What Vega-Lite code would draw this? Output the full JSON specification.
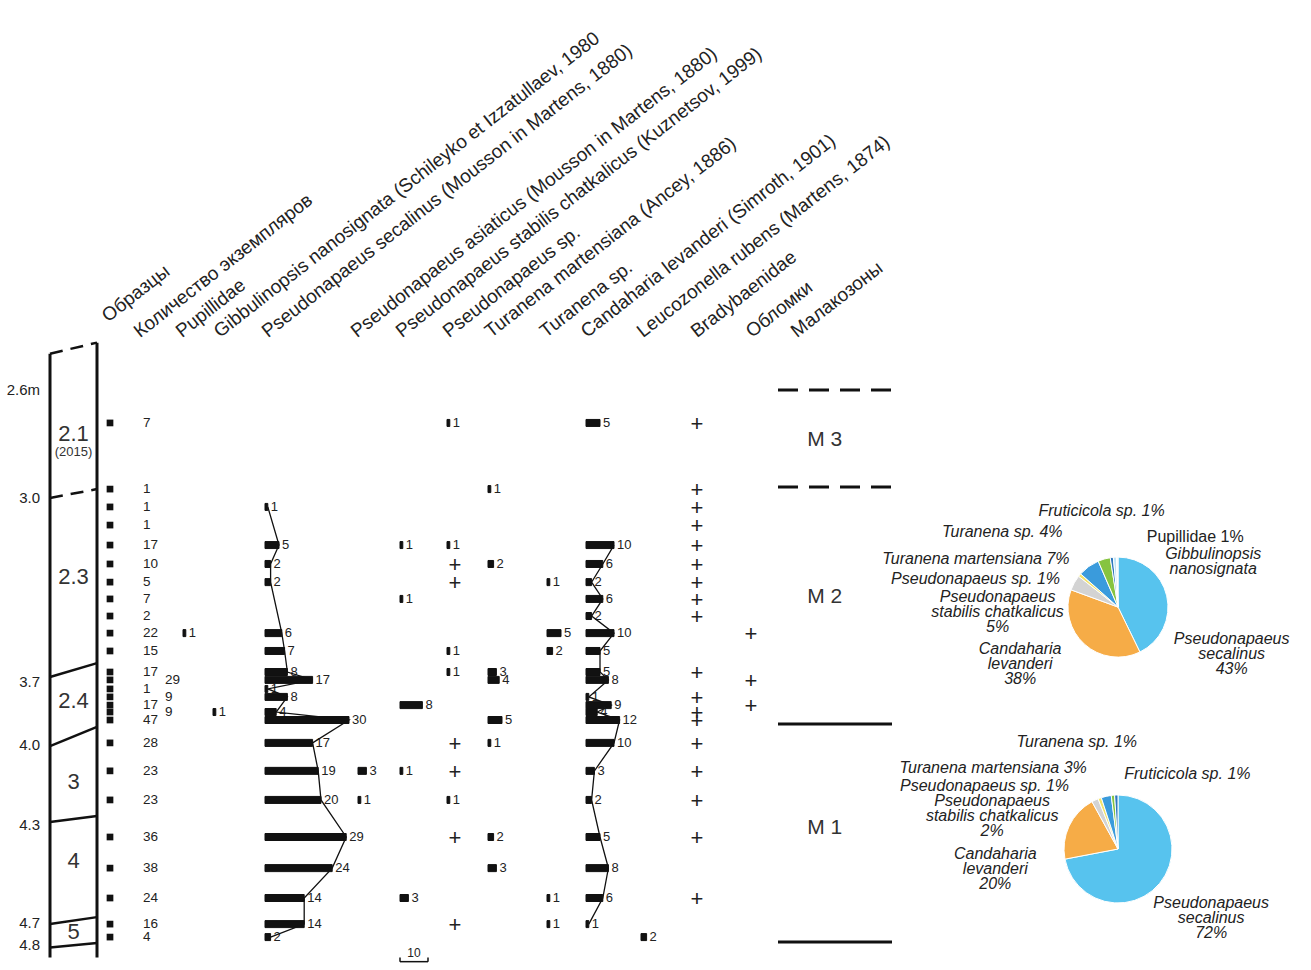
{
"$schema":"https://vega.github.io/schema/vega-lite/v6.json",
"width":1311,"height":970,"autosize":{"type":"none"},"padding":0,"background":"white",
"config":{"view":{"stroke":null},"font":"Liberation Sans","text":{"color":"#222"}},
"datasets":{
"samples":[
{"s":1,"depth":2.722,"total":7},{"s":2,"depth":2.967,"total":1},{"s":3,"depth":3.034,"total":1},{"s":4,"depth":3.103,"total":1},
{"s":5,"depth":3.179,"total":17},{"s":6,"depth":3.251,"total":10},{"s":7,"depth":3.32,"total":5},{"s":8,"depth":3.384,"total":7},
{"s":9,"depth":3.449,"total":2},{"s":10,"depth":3.514,"total":22},{"s":11,"depth":3.582,"total":15},{"s":12,"depth":3.662,"total":17},
{"s":13,"depth":3.692,"total":29},{"s":14,"depth":3.733,"total":1},{"s":15,"depth":3.771,"total":9},{"s":16,"depth":3.81,"total":17},
{"s":17,"depth":3.843,"total":9},{"s":18,"depth":3.881,"total":47},{"s":19,"depth":3.99,"total":28},{"s":20,"depth":4.097,"total":23},
{"s":21,"depth":4.206,"total":23},{"s":22,"depth":4.349,"total":36},{"s":23,"depth":4.476,"total":38},{"s":24,"depth":4.598,"total":24},
{"s":25,"depth":4.705,"total":16},{"s":26,"depth":4.764,"total":4}],
"counts":[
{"s":10,"depth":3.514,"t":"Pup","n":1},{"s":17,"depth":3.843,"t":"Gib","n":1},
{"s":3,"depth":3.034,"t":"Psec","n":1},{"s":5,"depth":3.179,"t":"Psec","n":5},{"s":6,"depth":3.251,"t":"Psec","n":2},{"s":7,"depth":3.32,"t":"Psec","n":2},{"s":10,"depth":3.514,"t":"Psec","n":6},{"s":11,"depth":3.582,"t":"Psec","n":7},{"s":12,"depth":3.662,"t":"Psec","n":8},{"s":13,"depth":3.692,"t":"Psec","n":17},{"s":14,"depth":3.733,"t":"Psec","n":1},{"s":15,"depth":3.771,"t":"Psec","n":8},{"s":17,"depth":3.843,"t":"Psec","n":4},{"s":18,"depth":3.881,"t":"Psec","n":30},{"s":19,"depth":3.99,"t":"Psec","n":17},{"s":20,"depth":4.097,"t":"Psec","n":19},{"s":21,"depth":4.206,"t":"Psec","n":20},{"s":22,"depth":4.349,"t":"Psec","n":29},{"s":23,"depth":4.476,"t":"Psec","n":24},{"s":24,"depth":4.598,"t":"Psec","n":14},{"s":25,"depth":4.705,"t":"Psec","n":14},{"s":26,"depth":4.764,"t":"Psec","n":2},
{"s":20,"depth":4.097,"t":"Pasi","n":3},{"s":21,"depth":4.206,"t":"Pasi","n":1},
{"s":5,"depth":3.179,"t":"Pstab","n":1},{"s":8,"depth":3.384,"t":"Pstab","n":1},{"s":16,"depth":3.81,"t":"Pstab","n":8},{"s":20,"depth":4.097,"t":"Pstab","n":1},{"s":24,"depth":4.598,"t":"Pstab","n":3},
{"s":1,"depth":2.722,"t":"Psp","n":1},{"s":5,"depth":3.179,"t":"Psp","n":1},{"s":11,"depth":3.582,"t":"Psp","n":1},{"s":12,"depth":3.662,"t":"Psp","n":1},{"s":21,"depth":4.206,"t":"Psp","n":1},
{"s":2,"depth":2.967,"t":"Tmart","n":1},{"s":6,"depth":3.251,"t":"Tmart","n":2},{"s":12,"depth":3.662,"t":"Tmart","n":3},{"s":13,"depth":3.692,"t":"Tmart","n":4},{"s":18,"depth":3.881,"t":"Tmart","n":5},{"s":19,"depth":3.99,"t":"Tmart","n":1},{"s":22,"depth":4.349,"t":"Tmart","n":2},{"s":23,"depth":4.476,"t":"Tmart","n":3},
{"s":7,"depth":3.32,"t":"Tsp","n":1},{"s":10,"depth":3.514,"t":"Tsp","n":5},{"s":11,"depth":3.582,"t":"Tsp","n":2},{"s":24,"depth":4.598,"t":"Tsp","n":1},{"s":25,"depth":4.705,"t":"Tsp","n":1},
{"s":1,"depth":2.722,"t":"Cand","n":5},{"s":5,"depth":3.179,"t":"Cand","n":10},{"s":6,"depth":3.251,"t":"Cand","n":6},{"s":7,"depth":3.32,"t":"Cand","n":2},{"s":8,"depth":3.384,"t":"Cand","n":6},{"s":9,"depth":3.449,"t":"Cand","n":2},{"s":10,"depth":3.514,"t":"Cand","n":10},{"s":11,"depth":3.582,"t":"Cand","n":5},{"s":12,"depth":3.662,"t":"Cand","n":5},{"s":13,"depth":3.692,"t":"Cand","n":8},{"s":15,"depth":3.771,"t":"Cand","n":1},{"s":16,"depth":3.81,"t":"Cand","n":9},{"s":17,"depth":3.843,"t":"Cand","n":4},{"s":18,"depth":3.881,"t":"Cand","n":12},{"s":19,"depth":3.99,"t":"Cand","n":10},{"s":20,"depth":4.097,"t":"Cand","n":3},{"s":21,"depth":4.206,"t":"Cand","n":2},{"s":22,"depth":4.349,"t":"Cand","n":5},{"s":23,"depth":4.476,"t":"Cand","n":8},{"s":24,"depth":4.598,"t":"Cand","n":6},{"s":25,"depth":4.705,"t":"Cand","n":1},
{"s":26,"depth":4.764,"t":"Leuc","n":2}],
"present":[
{"s":6,"depth":3.251,"t":"Psp"},{"s":7,"depth":3.32,"t":"Psp"},{"s":19,"depth":3.99,"t":"Psp"},{"s":20,"depth":4.097,"t":"Psp"},{"s":22,"depth":4.349,"t":"Psp"},{"s":25,"depth":4.705,"t":"Psp"},
{"s":1,"depth":2.722,"t":"Brady"},{"s":2,"depth":2.967,"t":"Brady"},{"s":3,"depth":3.034,"t":"Brady"},{"s":4,"depth":3.103,"t":"Brady"},{"s":5,"depth":3.179,"t":"Brady"},{"s":6,"depth":3.251,"t":"Brady"},{"s":7,"depth":3.32,"t":"Brady"},{"s":8,"depth":3.384,"t":"Brady"},{"s":9,"depth":3.449,"t":"Brady"},{"s":12,"depth":3.662,"t":"Brady"},{"s":15,"depth":3.771,"t":"Brady"},{"s":17,"depth":3.843,"t":"Brady"},{"s":18,"depth":3.881,"t":"Brady"},{"s":19,"depth":3.99,"t":"Brady"},{"s":20,"depth":4.097,"t":"Brady"},{"s":21,"depth":4.206,"t":"Brady"},{"s":22,"depth":4.349,"t":"Brady"},{"s":24,"depth":4.598,"t":"Brady"},
{"s":10,"depth":3.514,"t":"Obl"},{"s":13,"depth":3.692,"t":"Obl"},{"s":16,"depth":3.81,"t":"Obl"}],
"headers":[
{"col":1,"h":"Образцы"},{"col":2,"h":"Количество экземпляров"},{"col":3,"h":"Pupillidae"},
{"col":4,"h":"Gibbulinopsis  nanosignata (Schileyko et Izzatullaev, 1980"},
{"col":5,"h":"Pseudonapaeus secalinus (Mousson in Martens, 1880)"},
{"col":6,"h":"Pseudonapaeus  asiaticus (Mousson in Martens, 1880)"},
{"col":7,"h":"Pseudonapaeus stabilis chatkalicus (Kuznetsov, 1999)"},
{"col":8,"h":"Pseudonapaeus sp."},{"col":9,"h":"Turanena  martensiana (Ancey, 1886)"},
{"col":10,"h":"Turanena sp."},{"col":11,"h":"Candaharia levanderi (Simroth, 1901)"},
{"col":12,"h":"Leucozonella rubens (Martens, 1874)"},{"col":13,"h":"Bradybaenidae"},
{"col":14,"h":"Обломки"},{"col":15,"h":"Малакозоны"}],
"edges":[{"edge":"L","depth":2.452,"depth2":4.868},{"edge":"R","depth":2.407,"depth2":4.868}],
"bounds":[
{"kind":"dashed","depth":2.452,"depth2":2.407},{"kind":"dashed","depth":3.0,"depth2":2.967},
{"kind":"solid","depth":3.681,"depth2":3.628},{"kind":"solid","depth":4.004,"depth2":3.914},
{"kind":"solid","depth":4.289,"depth2":4.266},{"kind":"solid","depth":4.705,"depth2":4.676},
{"kind":"solid","depth":4.814,"depth2":4.791}],
"units":[{"u":"2.1","depth":2.763},{"u":"(2015)","depth":2.83},{"u":"2.3","depth":3.3},{"u":"2.4","depth":3.79},{"u":"3","depth":4.139},{"u":"4","depth":4.447},{"u":"5","depth":4.741}],
"dlabels":[{"l":"2.6m","depth":2.6},{"l":"3.0","depth":3.0},{"l":"3.7","depth":3.7},{"l":"4.0","depth":4.0},{"l":"4.3","depth":4.3},{"l":"4.7","depth":4.7},{"l":"4.8","depth":4.8}],
"zones":[{"kind":"dashed","depth":2.6},{"kind":"dashed","depth":2.959},{"kind":"solid","depth":3.9},{"kind":"solid","depth":4.786}],
"zlabels":[{"z":"M 3","depth":2.785},{"z":"M 2","depth":3.377},{"z":"M 1","depth":4.312}],
"pie":[
{"z":"M2","t":"Psec","v":43,"o":1,"lab":"Pseudonapaeus\nsecalinus\n43%"},
{"z":"M2","t":"Cand","v":38,"o":2,"lab":"Candaharia\nlevanderi\n38%"},
{"z":"M2","t":"Pstab","v":5,"o":3,"lab":"Pseudonapaeus\nstabilis chatkalicus\n5%"},
{"z":"M2","t":"Psp","v":1,"o":4,"lab":"Pseudonapaeus sp. 1%"},
{"z":"M2","t":"Tmart","v":7,"o":5,"lab":"Turanena martensiana 7%"},
{"z":"M2","t":"Tsp","v":4,"o":6,"lab":"Turanena sp. 4%"},
{"z":"M2","t":"Fruti","v":1,"o":7,"lab":"Fruticicola sp. 1%"},
{"z":"M2","t":"Pup","v":1,"o":8,"lab":"Pupillidae 1%"},
{"z":"M2","t":"Gib","v":0.5,"o":9,"lab":"Gibbulinopsis\nnanosignata"},
{"z":"M1","t":"Psec","v":72,"o":1,"lab":"Pseudonapaeus\nsecalinus\n72%"},
{"z":"M1","t":"Cand","v":20,"o":2,"lab":"Candaharia\nlevanderi\n20%"},
{"z":"M1","t":"Pstab","v":2,"o":3,"lab":"Pseudonapaeus\nstabilis chatkalicus\n2%"},
{"z":"M1","t":"Psp","v":1,"o":4,"lab":"Pseudonapaeus sp. 1%"},
{"z":"M1","t":"Tmart","v":3,"o":5,"lab":"Turanena martensiana 3%"},
{"z":"M1","t":"Tsp","v":1,"o":6,"lab":"Turanena sp. 1%"},
{"z":"M1","t":"Fruti","v":1,"o":7,"lab":"Fruticicola sp. 1%"}],
"scalebar":[{"n":10}]
},
"data":{"name":"counts"},
"resolve":{"scale":{"x":"independent","theta":"independent"}},
"layer":[
{"data":{"name":"headers"},
 "encoding":{"x":{"field":"col","type":"quantitative","scale":{"domain":[1,2,3,4,5,6,7,8,9,10,11,12,13,14,15],"range":[108,140,182,220,268,357,402,449,491,546,587,643,697,752,797],"zero":false,"nice":false},"axis":null},"text":{"field":"h","type":"nominal"}},
 "layer":[
  {"transform":[{"filter":"datum.col == 1"}],"mark":{"type":"text","angle":-38,"align":"left","baseline":"alphabetic","fontSize":19},"encoding":{"y":{"datum":2.326,"scale":{"domain":[2.4,2.6,3.0,3.7,4.0,4.3,4.7,4.8,4.9],"range":[336,390,498,682,745,825,923,945,967],"zero":false,"nice":false},"axis":null}}},
  {"transform":[{"filter":"datum.col > 1"}],"mark":{"type":"text","angle":-38,"align":"left","baseline":"alphabetic","fontSize":19},"encoding":{"y":{"datum":2.389,"scale":{"domain":[2.4,2.6,3.0,3.7,4.0,4.3,4.7,4.8,4.9],"range":[336,390,498,682,745,825,923,945,967],"zero":false,"nice":false},"axis":null}}}
 ]},
{"encoding":{"y":{"field":"depth","type":"quantitative","scale":{"domain":[2.4,2.6,3.0,3.7,4.0,4.3,4.7,4.8,4.9],"range":[336,390,498,682,745,825,923,945,967],"zero":false,"nice":false},"axis":null}},
 "layer":[
  {"data":{"name":"edges"},"transform":[{"filter":"datum.edge == 'L'"}],"mark":{"type":"rule","strokeWidth":3,"color":"#111"},"encoding":{"x":{"datum":0,"scale":{"domain":[0,1],"range":[50,97]},"axis":null},"y2":{"field":"depth2"}}},
  {"data":{"name":"edges"},"transform":[{"filter":"datum.edge == 'R'"}],"mark":{"type":"rule","strokeWidth":3,"color":"#111"},"encoding":{"x":{"datum":1,"axis":null},"y2":{"field":"depth2"}}},
  {"data":{"name":"bounds"},"transform":[{"filter":"datum.kind == 'solid'"}],"mark":{"type":"rule","strokeWidth":2.5,"color":"#111"},"encoding":{"x":{"datum":0,"axis":null},"x2":{"datum":1},"y2":{"field":"depth2"}}},
  {"data":{"name":"bounds"},"transform":[{"filter":"datum.kind == 'dashed'"}],"mark":{"type":"rule","strokeWidth":2.5,"color":"#111","strokeDash":[13,8]},"encoding":{"x":{"datum":0,"axis":null},"x2":{"datum":1},"y2":{"field":"depth2"}}},
  {"data":{"name":"units"},"transform":[{"filter":"datum.u != '(2015)'"}],"mark":{"type":"text","fontSize":22,"align":"center","baseline":"middle","color":"#333"},"encoding":{"x":{"datum":0.5,"axis":null},"text":{"field":"u","type":"nominal"}}},
  {"data":{"name":"units"},"transform":[{"filter":"datum.u == '(2015)'"}],"mark":{"type":"text","fontSize":13,"align":"center","baseline":"middle","color":"#333"},"encoding":{"x":{"datum":0.5,"axis":null},"text":{"field":"u","type":"nominal"}}},
  {"data":{"name":"dlabels"},"mark":{"type":"text","fontSize":15,"align":"right","baseline":"middle","dx":-10},"encoding":{"x":{"datum":0,"axis":null},"text":{"field":"l","type":"nominal"}}}
 ]},
{"data":{"name":"samples"},
 "encoding":{"y":{"field":"depth","type":"quantitative","scale":{"domain":[2.4,2.6,3.0,3.7,4.0,4.3,4.7,4.8,4.9],"range":[336,390,498,682,745,825,923,945,967],"zero":false,"nice":false},"axis":null}},
 "layer":[
  {"mark":{"type":"square","size":45,"color":"#111","opacity":1},"encoding":{"x":{"datum":0,"scale":{"domain":[0,1],"range":[110,143]},"axis":null}}},
  {"transform":[{"filter":{"not":{"field":"s","oneOf":[13,15,17]}}}],"mark":{"type":"text","align":"left","baseline":"middle","fontSize":13.5},"encoding":{"x":{"datum":1,"axis":null},"text":{"field":"total","type":"quantitative"}}},
  {"transform":[{"filter":{"field":"s","oneOf":[13,15,17]}}],"mark":{"type":"text","align":"left","baseline":"middle","fontSize":13.5,"dx":22},"encoding":{"x":{"datum":1,"axis":null},"text":{"field":"total","type":"quantitative"}}}
 ]},
{"transform":[{"filter":"datum.t == 'Pup'"}],
 "encoding":{"x":{"field":"n","type":"quantitative","scale":{"domain":[0,10],"range":[183,211]},"axis":null},"y":{"field":"depth","type":"quantitative","scale":{"domain":[2.4,2.6,3.0,3.7,4.0,4.3,4.7,4.8,4.9],"range":[336,390,498,682,745,825,923,945,967],"zero":false,"nice":false},"axis":null}},
 "layer":[
  {"mark":{"type":"bar","orient":"horizontal","size":7,"color":"#111","stroke":"#111","strokeWidth":1},"encoding":{"x2":{"datum":0}}},
  {"mark":{"type":"text","align":"left","baseline":"middle","dx":3,"fontSize":13},"encoding":{"text":{"field":"n","type":"quantitative"}}}
 ]},
{"transform":[{"filter":"datum.t == 'Gib'"}],
 "encoding":{"x":{"field":"n","type":"quantitative","scale":{"domain":[0,10],"range":[213,241]},"axis":null},"y":{"field":"depth","type":"quantitative","scale":{"domain":[2.4,2.6,3.0,3.7,4.0,4.3,4.7,4.8,4.9],"range":[336,390,498,682,745,825,923,945,967],"zero":false,"nice":false},"axis":null}},
 "layer":[
  {"mark":{"type":"bar","orient":"horizontal","size":7,"color":"#111","stroke":"#111","strokeWidth":1},"encoding":{"x2":{"datum":0}}},
  {"mark":{"type":"text","align":"left","baseline":"middle","dx":3,"fontSize":13},"encoding":{"text":{"field":"n","type":"quantitative"}}}
 ]},
{"transform":[{"filter":"datum.t == 'Psec'"}],
 "encoding":{"x":{"field":"n","type":"quantitative","scale":{"domain":[0,30],"range":[265,349]},"axis":null},"y":{"field":"depth","type":"quantitative","scale":{"domain":[2.4,2.6,3.0,3.7,4.0,4.3,4.7,4.8,4.9],"range":[336,390,498,682,745,825,923,945,967],"zero":false,"nice":false},"axis":null}},
 "layer":[
  {"mark":{"type":"bar","orient":"horizontal","size":7,"color":"#111","stroke":"#111","strokeWidth":1},"encoding":{"x2":{"datum":0}}},
  {"mark":{"type":"text","align":"left","baseline":"middle","dx":3,"fontSize":13},"encoding":{"text":{"field":"n","type":"quantitative"}}},
  {"transform":[{"filter":"datum.s > 1"}],"mark":{"type":"line","color":"#111","strokeWidth":1.3},"encoding":{"order":{"field":"depth","type":"quantitative"}}}
 ]},
{"transform":[{"filter":"datum.t == 'Pasi'"}],
 "encoding":{"x":{"field":"n","type":"quantitative","scale":{"domain":[0,10],"range":[358,386]},"axis":null},"y":{"field":"depth","type":"quantitative","scale":{"domain":[2.4,2.6,3.0,3.7,4.0,4.3,4.7,4.8,4.9],"range":[336,390,498,682,745,825,923,945,967],"zero":false,"nice":false},"axis":null}},
 "layer":[
  {"mark":{"type":"bar","orient":"horizontal","size":7,"color":"#111","stroke":"#111","strokeWidth":1},"encoding":{"x2":{"datum":0}}},
  {"mark":{"type":"text","align":"left","baseline":"middle","dx":3,"fontSize":13},"encoding":{"text":{"field":"n","type":"quantitative"}}}
 ]},
{"layer":[
  {"transform":[{"filter":"datum.t == 'Pstab'"}],"mark":{"type":"bar","orient":"horizontal","size":7,"color":"#111","stroke":"#111","strokeWidth":1},"encoding":{"x":{"field":"n","type":"quantitative","scale":{"domain":[0,10],"range":[400,428]},"axis":null},"x2":{"datum":0},"y":{"field":"depth","type":"quantitative","scale":{"domain":[2.4,2.6,3.0,3.7,4.0,4.3,4.7,4.8,4.9],"range":[336,390,498,682,745,825,923,945,967],"zero":false,"nice":false},"axis":null}}},
  {"transform":[{"filter":"datum.t == 'Pstab'"}],"mark":{"type":"text","align":"left","baseline":"middle","dx":3,"fontSize":13},"encoding":{"x":{"field":"n","type":"quantitative","axis":null},"y":{"field":"depth","type":"quantitative","axis":null},"text":{"field":"n","type":"quantitative"}}},
  {"data":{"name":"scalebar"},"mark":{"type":"rule","strokeWidth":1.5,"color":"#111"},"encoding":{"x":{"field":"n","type":"quantitative","axis":null},"x2":{"datum":0},"y":{"datum":4.891,"axis":null}}},
  {"data":{"name":"scalebar"},"mark":{"type":"rule","strokeWidth":1.5,"color":"#111"},"encoding":{"x":{"datum":0,"axis":null},"y":{"datum":4.868,"axis":null},"y2":{"datum":4.891}}},
  {"data":{"name":"scalebar"},"mark":{"type":"rule","strokeWidth":1.5,"color":"#111"},"encoding":{"x":{"field":"n","type":"quantitative","axis":null},"y":{"datum":4.868,"axis":null},"y2":{"datum":4.891}}},
  {"data":{"name":"scalebar"},"mark":{"type":"text","fontSize":12,"align":"center","baseline":"middle"},"encoding":{"x":{"datum":5,"axis":null},"y":{"datum":4.845,"axis":null},"text":{"field":"n","type":"quantitative"}}}
 ]},
{"layer":[
  {"transform":[{"filter":"datum.t == 'Psp'"}],"mark":{"type":"bar","orient":"horizontal","size":7,"color":"#111","stroke":"#111","strokeWidth":1},"encoding":{"x":{"field":"n","type":"quantitative","scale":{"domain":[0,10],"range":[447,475]},"axis":null},"x2":{"datum":0},"y":{"field":"depth","type":"quantitative","scale":{"domain":[2.4,2.6,3.0,3.7,4.0,4.3,4.7,4.8,4.9],"range":[336,390,498,682,745,825,923,945,967],"zero":false,"nice":false},"axis":null}}},
  {"transform":[{"filter":"datum.t == 'Psp'"}],"mark":{"type":"text","align":"left","baseline":"middle","dx":3,"fontSize":13},"encoding":{"x":{"field":"n","type":"quantitative","axis":null},"y":{"field":"depth","type":"quantitative","axis":null},"text":{"field":"n","type":"quantitative"}}},
  {"data":{"name":"present"},"transform":[{"filter":"datum.t == 'Psp'"}],"mark":{"type":"text","text":"+","fontSize":22,"align":"center","baseline":"middle","dx":8,"dy":1},"encoding":{"x":{"datum":0,"axis":null},"y":{"field":"depth","type":"quantitative","axis":null}}}
 ]},
{"transform":[{"filter":"datum.t == 'Tmart'"}],
 "encoding":{"x":{"field":"n","type":"quantitative","scale":{"domain":[0,10],"range":[488,516]},"axis":null},"y":{"field":"depth","type":"quantitative","scale":{"domain":[2.4,2.6,3.0,3.7,4.0,4.3,4.7,4.8,4.9],"range":[336,390,498,682,745,825,923,945,967],"zero":false,"nice":false},"axis":null}},
 "layer":[
  {"mark":{"type":"bar","orient":"horizontal","size":7,"color":"#111","stroke":"#111","strokeWidth":1},"encoding":{"x2":{"datum":0}}},
  {"mark":{"type":"text","align":"left","baseline":"middle","dx":3,"fontSize":13},"encoding":{"text":{"field":"n","type":"quantitative"}}}
 ]},
{"transform":[{"filter":"datum.t == 'Tsp'"}],
 "encoding":{"x":{"field":"n","type":"quantitative","scale":{"domain":[0,10],"range":[547,575]},"axis":null},"y":{"field":"depth","type":"quantitative","scale":{"domain":[2.4,2.6,3.0,3.7,4.0,4.3,4.7,4.8,4.9],"range":[336,390,498,682,745,825,923,945,967],"zero":false,"nice":false},"axis":null}},
 "layer":[
  {"mark":{"type":"bar","orient":"horizontal","size":7,"color":"#111","stroke":"#111","strokeWidth":1},"encoding":{"x2":{"datum":0}}},
  {"mark":{"type":"text","align":"left","baseline":"middle","dx":3,"fontSize":13},"encoding":{"text":{"field":"n","type":"quantitative"}}}
 ]},
{"transform":[{"filter":"datum.t == 'Cand'"}],
 "encoding":{"x":{"field":"n","type":"quantitative","scale":{"domain":[0,12],"range":[586,619.6]},"axis":null},"y":{"field":"depth","type":"quantitative","scale":{"domain":[2.4,2.6,3.0,3.7,4.0,4.3,4.7,4.8,4.9],"range":[336,390,498,682,745,825,923,945,967],"zero":false,"nice":false},"axis":null}},
 "layer":[
  {"mark":{"type":"bar","orient":"horizontal","size":7,"color":"#111","stroke":"#111","strokeWidth":1},"encoding":{"x2":{"datum":0}}},
  {"mark":{"type":"text","align":"left","baseline":"middle","dx":3,"fontSize":13},"encoding":{"text":{"field":"n","type":"quantitative"}}},
  {"transform":[{"filter":"datum.s > 1"}],"mark":{"type":"line","color":"#111","strokeWidth":1.3},"encoding":{"order":{"field":"depth","type":"quantitative"}}}
 ]},
{"transform":[{"filter":"datum.t == 'Leuc'"}],
 "encoding":{"x":{"field":"n","type":"quantitative","scale":{"domain":[0,10],"range":[641,669]},"axis":null},"y":{"field":"depth","type":"quantitative","scale":{"domain":[2.4,2.6,3.0,3.7,4.0,4.3,4.7,4.8,4.9],"range":[336,390,498,682,745,825,923,945,967],"zero":false,"nice":false},"axis":null}},
 "layer":[
  {"mark":{"type":"bar","orient":"horizontal","size":7,"color":"#111","stroke":"#111","strokeWidth":1},"encoding":{"x2":{"datum":0}}},
  {"mark":{"type":"text","align":"left","baseline":"middle","dx":3,"fontSize":13},"encoding":{"text":{"field":"n","type":"quantitative"}}}
 ]},
{"data":{"name":"present"},"transform":[{"filter":"datum.t == 'Brady'"}],
 "mark":{"type":"text","text":"+","fontSize":22,"align":"center","baseline":"middle","dy":1},
 "encoding":{"x":{"datum":0,"scale":{"domain":[0,1],"range":[697,698]},"axis":null},"y":{"field":"depth","type":"quantitative","scale":{"domain":[2.4,2.6,3.0,3.7,4.0,4.3,4.7,4.8,4.9],"range":[336,390,498,682,745,825,923,945,967],"zero":false,"nice":false},"axis":null}}},
{"data":{"name":"present"},"transform":[{"filter":"datum.t == 'Obl'"}],
 "mark":{"type":"text","text":"+","fontSize":22,"align":"center","baseline":"middle","dy":1},
 "encoding":{"x":{"datum":0,"scale":{"domain":[0,1],"range":[751,752]},"axis":null},"y":{"field":"depth","type":"quantitative","scale":{"domain":[2.4,2.6,3.0,3.7,4.0,4.3,4.7,4.8,4.9],"range":[336,390,498,682,745,825,923,945,967],"zero":false,"nice":false},"axis":null}}},
{"encoding":{"y":{"field":"depth","type":"quantitative","scale":{"domain":[2.4,2.6,3.0,3.7,4.0,4.3,4.7,4.8,4.9],"range":[336,390,498,682,745,825,923,945,967],"zero":false,"nice":false},"axis":null}},
 "layer":[
  {"data":{"name":"zones"},"transform":[{"filter":"datum.kind == 'dashed'"}],"mark":{"type":"rule","strokeWidth":3,"strokeDash":[20,11],"color":"#111"},"encoding":{"x":{"datum":0,"scale":{"domain":[0,1],"range":[778,892]},"axis":null},"x2":{"datum":1}}},
  {"data":{"name":"zones"},"transform":[{"filter":"datum.kind == 'solid'"}],"mark":{"type":"rule","strokeWidth":3,"color":"#111"},"encoding":{"x":{"datum":0,"axis":null},"x2":{"datum":1}}},
  {"data":{"name":"zlabels"},"mark":{"type":"text","fontSize":21,"align":"center","baseline":"middle","color":"#333"},"encoding":{"x":{"datum":0.41,"axis":null},"text":{"field":"z","type":"nominal"}}}
 ]},
{"data":{"name":"pie"},"transform":[{"filter":"datum.z == 'M2'"}],
 "encoding":{
  "x":{"datum":0.5,"scale":{"domain":[0,1],"range":[1068,1168]},"axis":null},
  "y":{"datum":3.415,"scale":{"domain":[2.4,2.6,3.0,3.7,4.0,4.3,4.7,4.8,4.9],"range":[336,390,498,682,745,825,923,945,967],"zero":false,"nice":false},"axis":null},
  "theta":{"field":"v","type":"quantitative","stack":true},
  "order":{"field":"o","type":"quantitative"},
  "color":{"field":"t","type":"nominal","scale":{"domain":["Psec","Cand","Pstab","Psp","Tmart","Tsp","Fruti","Pup","Gib"],"range":["#57C3EE","#F6AC47","#D3D3D3","#F3E36A","#3A9BDC","#86C440","#2E78BE","#BFE4F6","#E9F5FB"]},"legend":null}},
 "layer":[
  {"mark":{"type":"arc","outerRadius":50,"stroke":"white","strokeWidth":1}},
  {"mark":{"type":"text","radius":52,"fontSize":16,"lineBreak":"\n","lineHeight":15,"baseline":"top",
    "align":{"expr":"indexof(['Psp','Tmart','Tsp'], datum.t) >= 0 ? 'right' : (datum.t == 'Pup' ? 'left' : 'center')"},
    "fontStyle":{"expr":"datum.t == 'Pup' ? 'normal' : 'italic'"},
    "dx":{"expr":"datum.t=='Psec'?63:datum.t=='Cand'?-63:datum.t=='Pstab'?-75:datum.t=='Psp'?-18:datum.t=='Tmart'?-18:datum.t=='Tsp'?-41:datum.t=='Fruti'?-10:datum.t=='Pup'?32:96"},
    "dy":{"expr":"datum.t=='Psec'?36:datum.t=='Cand'?-5:datum.t=='Pstab'?7:datum.t=='Psp'?-3:datum.t=='Tmart'?-14:datum.t=='Tsp'?-33:datum.t=='Fruti'?-52:datum.t=='Pup'?-26:-9"}},
   "encoding":{"text":{"field":"lab","type":"nominal"},"color":{"value":"#222"}}}
 ]},
{"data":{"name":"pie"},"transform":[{"filter":"datum.z == 'M1'"}],
 "encoding":{
  "x":{"datum":0.5,"scale":{"domain":[0,1],"range":[1068,1168]},"axis":null},
  "y":{"datum":4.398,"scale":{"domain":[2.4,2.6,3.0,3.7,4.0,4.3,4.7,4.8,4.9],"range":[336,390,498,682,745,825,923,945,967],"zero":false,"nice":false},"axis":null},
  "theta":{"field":"v","type":"quantitative","stack":true},
  "order":{"field":"o","type":"quantitative"},
  "color":{"field":"t","type":"nominal","scale":{"domain":["Psec","Cand","Pstab","Psp","Tmart","Tsp","Fruti","Pup","Gib"],"range":["#57C3EE","#F6AC47","#D3D3D3","#F3E36A","#3A9BDC","#86C440","#2E78BE","#BFE4F6","#E9F5FB"]},"legend":null}},
 "layer":[
  {"mark":{"type":"arc","outerRadius":54,"stroke":"white","strokeWidth":1}},
  {"mark":{"type":"text","radius":56,"fontSize":16,"lineBreak":"\n","lineHeight":15,"baseline":"top",
    "align":{"expr":"indexof(['Psp','Tmart'], datum.t) >= 0 ? 'right' : (datum.t == 'Fruti' ? 'left' : 'center')"},
    "fontStyle":"italic",
    "dx":{"expr":"datum.t=='Psec'?50:datum.t=='Cand'?-72:datum.t=='Pstab'?-102:datum.t=='Psp'?-30:datum.t=='Tmart'?-19:datum.t=='Tsp'?-36:8"},
    "dy":{"expr":"datum.t=='Psec'?10:datum.t=='Cand'?21:datum.t=='Pstab'?-5:datum.t=='Psp'?-18:datum.t=='Tmart'?-34:datum.t=='Tsp'?-59:-27"}},
   "encoding":{"text":{"field":"lab","type":"nominal"},"color":{"value":"#222"}}}
 ]}
]
}
